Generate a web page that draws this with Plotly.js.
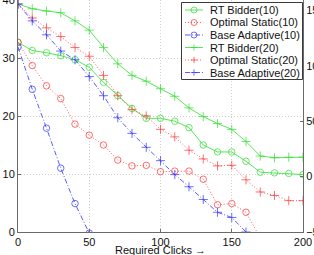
<!DOCTYPE html>
<html><head><meta charset="utf-8">
<script src="https://cdn.plot.ly/plotly-3.0.1.min.js"></script>
<style>html,body{margin:0;padding:0;background:#fff}#chart{width:314px;height:255px}</style>
</head><body><div id="chart"></div>
<script>
// ---- data ----
const clicks = [0,10,20,30,40,50,60,70,80,90,100,110,120,130,140,150,160,170,180,190,200];
const seriesNames = ['RT Bidder(10)','Optimal Static(10)','Base Adaptive(10)','RT Bidder(20)','Optimal Static(20)','Base Adaptive(20)'];
const rtBidder10 = [32.7,31.3,30.9,30.4,29.7,28.4,25.8,23.5,21.3,19.6,19.6,19.1,18.0,15.0,13.8,13.8,12.2,10.3,10.2,10.1,9.9];
const optStatic10 = [32.7,28.7,25.2,23.0,18.6,16.7,15.0,12.4,11.4,11.5,10.4,10.5,10.5,9.1,4.7,4.9,3.4,-1.0];
const baseAdaptive10 = [31.9,24.6,17.9,11.0,4.9,-0.2];
const rtBidder20 = [39.3,38.5,38.1,37.8,36.4,34.8,31.8,29.0,27.0,26.0,24.7,23.4,21.4,19.9,18.7,17.7,15.6,13.1,12.8,12.9,12.9];
const optStatic20 = [39.3,36.9,35.2,33.7,31.8,30.3,27.0,23.5,21.1,20.0,17.7,16.4,14.1,12.6,11.4,11.5,9.0,6.9,6.3,5.4,5.4];
const baseAdaptive20 = [39.3,36.4,34.0,31.2,29.7,26.8,23.5,19.7,17.0,14.6,12.3,9.9,7.8,5.6,3.4,2.5,0.0];
const leftTicks = [0,10,20,30,40];
const rightTicks = [-50,0,50,100,150];
const xTicks = [0,50,100,150,200];
const xTitle = 'Required Clicks \u2192';

// ---- styles ----
const GREEN='#2ee02e', RED='#ff3535', BLUE='#3030ff';
const styles = [
  {color:GREEN, dash:'solid', symbol:'circle-open', size:6.5},
  {color:RED, dash:'1px,2px', symbol:'circle-open', size:6.5},
  {color:BLUE, dash:'5px,2px,1px,2px', symbol:'circle-open', size:6.5},
  {color:GREEN, dash:'solid', symbol:'cross-thin-open', size:6.5},
  {color:RED, dash:'1px,2px', symbol:'cross-thin-open', size:6.5},
  {color:BLUE, dash:'5px,2px,1px,2px', symbol:'cross-thin-open', size:6.5}
];
const values = [rtBidder10, optStatic10, baseAdaptive10, rtBidder20, optStatic20, baseAdaptive20];

const traces = values.map((v,i)=>({
  type:'scatter', mode:'lines+markers', name:seriesNames[i],
  x: clicks.slice(0, v.length), y: v,
  line:{color:styles[i].color, width:0.8, dash:styles[i].dash},
  marker:{symbol:styles[i].symbol, size:styles[i].size, color:styles[i].color, line:{color:styles[i].color, width:0.7}},
  showlegend:false, hoverinfo:'skip'
}));
traces.push({type:'scatter', x:[], y:[], yaxis:'y2', showlegend:false, hoverinfo:'skip'});

// ---- geometry helpers (pixel -> paper) ----
const W=314, H=255, M={l:18, r:11, t:0, b:23};
const pw=W-M.l-M.r, ph=H-M.t-M.b;
const px = p => (p-M.l)/pw;
const py = p => (M.t+ph-p)/ph;

// manual compact legend (MATLAB style)
const shapes = [{type:'rect', xref:'paper', yref:'paper', x0:px(181.5), x1:px(302.5), y0:py(79.5), y1:py(2.5),
  fillcolor:'#ffffff', line:{color:'#3a3a3a', width:1}, layer:'above'}];
const annotations = [];
seriesNames.forEach((n,i)=>{
  const yy = py(10 + 12.5*i);
  const st = styles[i];
  shapes.push({type:'line', xref:'paper', yref:'paper', x0:px(185), x1:px(203), y0:yy, y1:yy,
    line:{color:st.color, width:0.8, dash:st.dash}, layer:'above'});
  if (st.symbol==='circle-open') {
    shapes.push({type:'circle', xref:'paper', yref:'paper', xsizemode:'pixel', ysizemode:'pixel',
      xanchor:px(194), yanchor:yy, x0:-3, x1:3, y0:-3, y1:3,
      line:{color:st.color, width:0.7}, fillcolor:'rgba(0,0,0,0)', layer:'above'});
  } else {
    shapes.push({type:'path', xref:'paper', yref:'paper', xsizemode:'pixel', ysizemode:'pixel',
      xanchor:px(194), yanchor:yy, path:'M-3.2,0H3.2M0,-3.2V3.2',
      line:{color:st.color, width:0.7}, layer:'above'});
  }
  annotations.push({xref:'paper', yref:'paper', x:px(207.5), y:yy, xanchor:'left', yanchor:'middle',
    text:n, showarrow:false, font:{size:11, color:'#111'}});
});
// x-axis title (placed like the MATLAB xlabel)
annotations.push({xref:'paper', yref:'paper', x:px(160), y:py(250), xanchor:'center', yanchor:'middle',
  text:xTitle, showarrow:false, font:{size:11, color:'#111'}});

const axisBase = {linecolor:'#6a6a6a', linewidth:1, showline:true, zeroline:false,
  tickcolor:'#6a6a6a', ticklen:3, tickfont:{size:11, color:'#111'}, ticklabeloverflow:'allow'};

const layout = {
  width:W, height:H, margin:M, paper_bgcolor:'#fff', plot_bgcolor:'#fff',
  font:{family:'Liberation Sans, Arial, sans-serif', size:11, color:'#111'},
  showlegend:false,
  xaxis:Object.assign({}, axisBase, {range:[0,200], tickvals:xTicks, ticks:'inside',
    showgrid:true, gridcolor:'#cfcfcf', griddash:'1px,2px', gridwidth:1, automargin:false}),
  yaxis:Object.assign({}, axisBase, {range:[0,40], tickvals:leftTicks, ticks:'inside',
    showgrid:true, gridcolor:'#cfcfcf', griddash:'1px,2px', gridwidth:1, automargin:false}),
  yaxis2:Object.assign({}, axisBase, {overlaying:'y', side:'right', range:[-50,159.5], tickvals:rightTicks,
    ticks:'inside', showgrid:false, automargin:false}),
  shapes:shapes, annotations:annotations
};
Plotly.newPlot('chart', traces, layout, {staticPlot:true, displayModeBar:false});
</script></body></html>
